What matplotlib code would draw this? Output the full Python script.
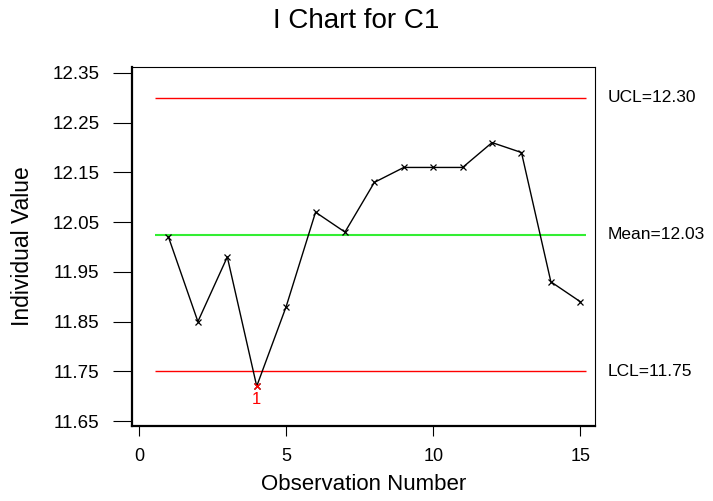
import matplotlib.pyplot as plt
import numpy as np

plt.rcParams["font.family"] = ["Liberation Sans", "DejaVu Sans"]

# Observations
obs = np.arange(1, 16)
values = [12.02, 11.85, 11.98, 11.72, 11.88, 12.07, 12.03, 12.13,
          12.16, 12.16, 12.16, 12.21, 12.19, 11.93, 11.89]

ucl = 12.30
mean = 12.025
lcl = 11.75

yticks = [11.65, 11.75, 11.85, 11.95, 12.05, 12.15, 12.25, 12.35]
xticks = [0, 5, 10, 15]

fig = plt.figure(figsize=(7.13, 5.01), dpi=100)
ax = fig.add_axes([132 / 713, 75 / 501, 463 / 713, 359 / 501])

# Control limits
ax.hlines(ucl, 0.55, 15.2, color="#ff0000", lw=1)
ax.hlines(mean, 0.55, 15.2, color="#33ee33", lw=1.5)
ax.hlines(lcl, 0.55, 15.2, color="#ff0000", lw=1)

# Data
ax.plot(obs, values, color="black", lw=1, marker="x", ms=4, mew=0.9)

# Out-of-control points
out = [i for i, v in enumerate(values) if v > ucl or v < lcl]
for i in out:
    ax.plot(obs[i], values[i], "x", color="red", ms=5, mew=1)
    ax.text(obs[i], values[i] - 0.012, "1", color="red", ha="center",
            va="top", fontsize=12)

ax.set_xlim(-0.24, 15.5)
ax.set_ylim(11.64, 12.362)
ax.set_xticks(xticks)
ax.set_yticks(yticks)
ax.set_yticklabels([f"{t:.2f}" for t in yticks])
ax.tick_params(axis="y", direction="out", length=13.5, pad=10, labelsize=13.5)
ax.tick_params(axis="x", direction="out", length=7, pad=9, labelsize=13)
for s in ["left", "bottom"]:
    ax.spines[s].set_linewidth(1.6)
for s in ["top", "right"]:
    ax.spines[s].set_linewidth(0.8)

# Limit labels on the right
tr = ax.get_yaxis_transform()
ax.text(1.027, ucl, f"UCL={ucl:.2f}", transform=tr, va="center", fontsize=12.5)
ax.text(1.027, mean, f"Mean={mean:.2f}", transform=tr, va="center", fontsize=12.5)
ax.text(1.027, lcl, f"LCL={lcl:.2f}", transform=tr, va="center", fontsize=12.5)

ax.set_xlabel("Observation Number", fontsize=16)
ax.set_ylabel("Individual Value", fontsize=16.5)
ax.xaxis.set_label_coords(0.5, -0.135)
ax.yaxis.set_label_coords(-0.212, 0.5)
fig.text(0.5, 0.958, "I Chart for C1", ha="center", va="center", fontsize=20)

fig.savefig("out.png", dpi=100)
